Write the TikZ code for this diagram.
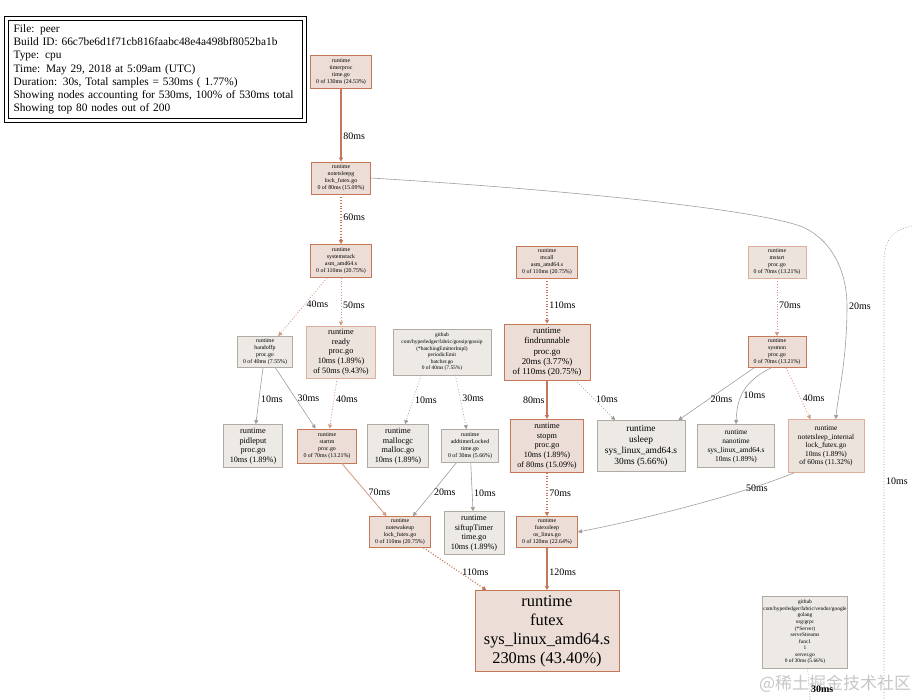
\documentclass[tikz,border=0pt]{standalone}
\usepackage{fontspec}
\setmainfont{Liberation Serif}
\newfontfamily\cjkfont{Noto Sans CJK SC}
\usepackage{tikz}
\usetikzlibrary{arrows.meta, positioning}
\definecolor{PprofRust}{RGB}{196,120,88}
\definecolor{PprofRose}{RGB}{236,222,215}
\definecolor{PprofStone}{RGB}{176,170,164}
\definecolor{PprofSand}{RGB}{237,234,230}
\definecolor{EdgeGray}{RGB}{160,155,150}

\begin{document}
\begin{tikzpicture}[x=0.03cm, y=-0.03cm,
	fn/.style={rectangle, draw, align=center, inner sep=0.8pt, line width=0.6pt},
	hot/.style={fn, draw=PprofRust, fill=PprofRose},
	warm/.style={fn, draw=PprofRust!60, fill=PprofRose!60!PprofSand},
	cold/.style={fn, draw=PprofStone, fill=PprofSand},
	sz/.style 2 args={minimum width=#1*0.3mm, minimum height=#2*0.3mm},
	tx/.style={font=\fontsize{5}{6}\selectfont},
	tny/.style={font=\fontsize{4.6}{5.6}\selectfont},
	md/.style={font=\fontsize{7}{8.2}\selectfont},
	lbl/.style={font=\fontsize{8.5}{10}\selectfont, inner sep=1.5pt, text=black},
	e/.style={-{Triangle[length=3.5pt,width=3.5pt]}, line width=0.5pt},
	hotline/.style={e, draw=PprofRust, line width=1.1pt},
	warmline/.style={e, draw=PprofRust!75, line width=0.7pt},
	coldline/.style={e, draw=EdgeGray},
	dots/.style={dash pattern=on 0.8pt off 1.6pt}]
	\useasboundingbox (0,0) rectangle (919,700);
	% legend
	\node[draw, line width=0.5pt, anchor=north west,
		sz={293}{98}, inner xsep=1.6mm, text width=85mm, align=left,
		font=\fontsize{9.7}{11.3}\selectfont] (legend) at (8,20)
		{File: peer\\
		Build ID: 66c7be6d1f71cb816faabc48e4a498bf8052ba1b\\
		Type: cpu\\
		Time: May 29, 2018 at 5:09am (UTC)\\
		Duration: 30s, Total samples = 530ms ( 1.77\%)\\
		Showing nodes accounting for 530ms, 100\% of 530ms total\\
		Showing top 80 nodes out of 200};
	\draw[line width=0.5pt] ([shift={(-4,-4)}]legend.north west) rectangle ([shift={(4,4)}]legend.south east);
	% upper row
	\node[hot, sz={61}{33}, tx] (timerproc) at (341,72) {runtime\\timerproc\\time.go\\0 of 130ms (24.53\%)};
	\node[hot, sz={59}{32}, tx] (notetsleepg) at (341,178) {runtime\\notetsleepg\\lock\_futex.go\\0 of 80ms (15.09\%)};
	\node[hot, sz={61}{33}, tx] (systemstack) at (341,261) {runtime\\systemstack\\asm\_amd64.s\\0 of 110ms (20.75\%)};
	\node[hot, sz={61}{32}, tx] (mcall) at (547,262) {runtime\\mcall\\asm\_amd64.s\\0 of 110ms (20.75\%)};
	\node[warm, sz={58}{32}, tx] (mstart) at (777,262) {runtime\\mstart\\proc.go\\0 of 70ms (13.21\%)};
	% second row
	\node[cold, sz={55}{31}, tx] (handoffp) at (265,352) {runtime\\handoffp\\proc.go\\0 of 40ms (7.55\%)};
	\node[warm, sz={69}{52}, md] (ready) at (341,352) {runtime\\ready\\proc.go\\10ms (1.89\%)\\of 50ms (9.43\%)};
	\node[cold, sz={98}{46}, tny] (batcher) at (442,352) {github\\com/hyperledger/fabric/gossip/gossip\\(*batchingEmitterImpl)\\periodicEmit\\batcher.go\\0 of 40ms (7.55\%)};
	\node[hot, sz={86}{56}, font=\fontsize{7.6}{8.9}\selectfont] (findrunnable) at (547,352) {runtime\\findrunnable\\proc.go\\20ms (3.77\%)\\of 110ms (20.75\%)};
	\node[hot, sz={58}{31}, tx] (sysmon) at (777,352) {runtime\\sysmon\\proc.go\\0 of 70ms (13.21\%)};
	% third row
	\node[cold, sz={59}{43}, md] (pidleput) at (253,446) {runtime\\pidleput\\proc.go\\10ms (1.89\%)};
	\node[hot, sz={59}{34}, tx] (startm) at (327,446) {runtime\\startm\\proc.go\\0 of 70ms (13.21\%)};
	\node[cold, sz={61}{43}, md] (mallocgc) at (398,446) {runtime\\mallocgc\\malloc.go\\10ms (1.89\%)};
	\node[cold, sz={57}{33}, tx] (addtimerLocked) at (470,446) {runtime\\addtimerLocked\\time.go\\0 of 30ms (5.66\%)};
	\node[hot, sz={73}{53}, md] (stopm) at (547,446) {runtime\\stopm\\proc.go\\10ms (1.89\%)\\of 80ms (15.09\%)};
	\node[cold, sz={88}{51}, font=\fontsize{8}{9.4}\selectfont] (usleep) at (641,446) {runtime\\usleep\\sys\_linux\_amd64.s\\30ms (5.66\%)};
	\node[cold, sz={77}{43}, font=\fontsize{6.3}{7.6}\selectfont] (nanotime) at (736,446) {runtime\\nanotime\\sys\_linux\_amd64.s\\10ms (1.89\%)};
	\node[warm, sz={76}{53}, font=\fontsize{6.3}{7.2}\selectfont] (notetsleepinternal) at (826,446) {runtime\\notetsleep\_internal\\lock\_futex.go\\10ms (1.89\%)\\of 60ms (11.32\%)};
	% fourth row
	\node[hot, sz={61}{31}, tx] (notewakeup) at (400,532) {runtime\\notewakeup\\lock\_futex.go\\0 of 110ms (20.75\%)};
	\node[cold, sz={60}{43}, md] (siftupTimer) at (474,533) {runtime\\siftupTimer\\time.go\\10ms (1.89\%)};
	\node[hot, sz={61}{31}, tx] (futexsleep) at (547,532) {runtime\\futexsleep\\os\_linux.go\\0 of 120ms (22.64\%)};
	% bottom
	\node[hot, sz={144}{81}, font=\fontsize{14}{16.2}\selectfont] (futex) at (547,631) {runtime\\futex\\sys\_linux\_amd64.s\\230ms (43.40\%)};
	\node[cold, sz={85}{72}, tny] (serve) at (805,632) {github\\com/hyperledger/fabric/vendor/google\\golang\\org/grpc\\(*Server)\\serveStreams\\func1\\1\\server.go\\0 of 30ms (5.66\%)};
	\coordinate (rtop) at (912,226);
	\coordinate (rbot) at (884,700);
	\coordinate (sbot) at (810,700);
	% watermark
	\node[text=gray!45, font=\cjkfont\fontsize{14.5}{14.5}\selectfont] (mark) at (835,684) {@稀土掘金技术社区};
	% edges
	\draw[hotline] (timerproc) -- node[lbl, right, pos=.65] {80ms} (notetsleepg);
	\draw[hotline, dots] (notetsleepg) -- node[lbl, right, pos=.45] {60ms} (systemstack);
	\draw[coldline] (notetsleepg.east) .. controls (600,192) and (770,212) .. (805,228)
		.. controls (838,245) and (847,280) .. (847,306) node[lbl, right] {20ms}
		.. controls (847,360) and (838,395) .. (notetsleepinternal.70);
	\draw[warmline, dots] (systemstack) -- node[lbl, right, pos=.46] {40ms} (handoffp);
	\draw[warmline, dots] (systemstack) -- node[lbl, right, pos=.58] {50ms} (ready);
	\draw[hotline, dots] (mcall) -- node[lbl, right, pos=.6] {110ms} (findrunnable);
	\draw[warmline, dots] (mstart) -- node[lbl, right, pos=.47] {70ms} (sysmon);
	\draw[coldline] (handoffp) -- node[lbl, right, pos=.55] {10ms} (pidleput);
	\draw[coldline] (handoffp) -- node[lbl, right, pos=.5] {30ms} (startm);
	\draw[warmline, dots] (ready) -- node[lbl, right, pos=.41] {40ms} (startm);
	\draw[coldline, dots] (batcher.228) -- node[lbl, right, pos=.5] {10ms} (mallocgc);
	\draw[coldline, dots] (batcher.300) -- node[lbl, right, pos=.43] {30ms} (addtimerLocked);
	\draw[hotline] (findrunnable) -- node[lbl, left, pos=.5] {80ms} (stopm);
	\draw[coldline, dots] (findrunnable) -- node[lbl, right, pos=.47] {10ms} (usleep);
	\draw[coldline] (sysmon) -- node[lbl, right, pos=.6] {20ms} (usleep);
	\draw[coldline] (sysmon.250) .. controls (742,382) and (737,400) .. node[lbl, right, pos=.55] {10ms} (nanotime.north);
	\draw[warmline, dots] (sysmon.300) -- node[lbl, right, pos=.6] {40ms} (notetsleepinternal.120);
	\draw[warmline] (startm) -- node[lbl, right, pos=.55] {70ms} (notewakeup);
	\draw[coldline] (addtimerLocked) -- node[lbl, right, pos=.56] {20ms} (notewakeup);
	\draw[coldline] (addtimerLocked) -- node[lbl, right, pos=.62] {10ms} (siftupTimer);
	\draw[hotline, dots] (stopm) -- node[lbl, right, pos=.47] {70ms} (futexsleep);
	\draw[coldline] (notetsleepinternal.220) .. controls (740,495) and (640,520) .. node[lbl, below, pos=.15, xshift=-3mm] {50ms} (futexsleep.east);
	\draw[hotline, dots] (notewakeup) -- node[lbl, right, pos=.58] {110ms} (futex);
	\draw[hotline] (futexsleep) -- node[lbl, right, pos=.58] {120ms} (futex);
	\draw[EdgeGray, line width=0.5pt, dots] (rtop) .. controls (892,230) and (884,240) .. (884,262)
		-- node[lbl, right, pos=.5] {10ms} (rbot);
	\draw[EdgeGray, line width=0.5pt, dots] (serve) -- node[lbl, right, pos=.65, font=\bfseries\fontsize{8.5}{10}\selectfont] {30ms} (sbot);
\end{tikzpicture}
\end{document}
